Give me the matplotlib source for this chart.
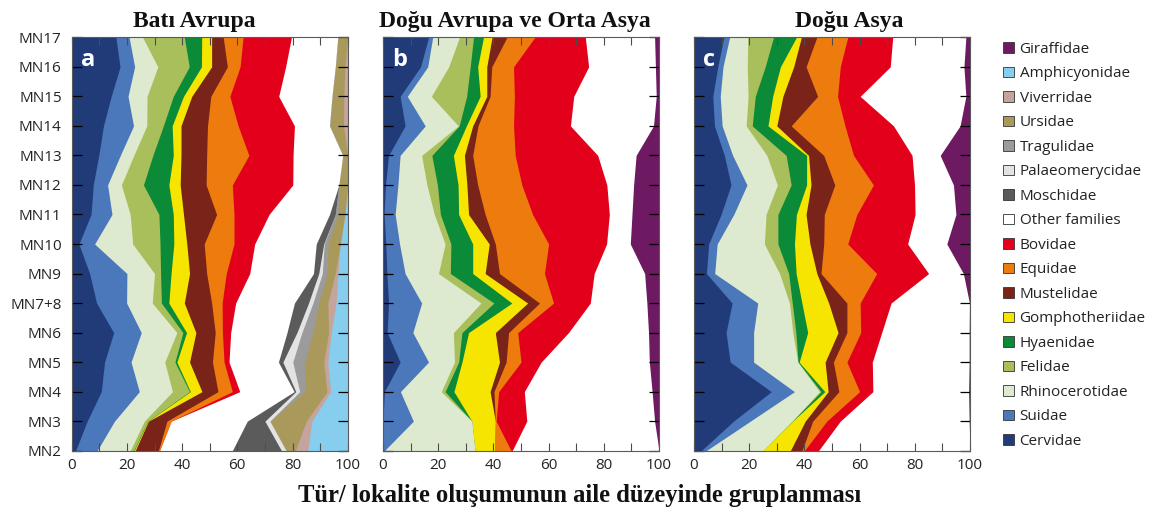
import numpy as np
import matplotlib
matplotlib.use("Agg")
import matplotlib.pyplot as plt
from matplotlib.patches import Rectangle

# Mammal-age levels, bottom to top
levels = ["MN2", "MN3", "MN4", "MN5", "MN6", "MN7+8", "MN9", "MN10",
          "MN11", "MN12", "MN13", "MN14", "MN15", "MN16", "MN17"]

# Stack order, left to right
families = ["Cervidae", "Suidae", "Rhinocerotidae", "Felidae", "Hyaenidae",
            "Gomphotheriidae", "Mustelidae", "Equidae", "Bovidae",
            "Other families", "Moschidae", "Palaeomerycidae", "Tragulidae",
            "Ursidae", "Viverridae", "Amphicyonidae", "Giraffidae"]

family_colors = ["#213a78", "#4b77bb", "#deeacf", "#a9bf5c", "#0b8a38",
                 "#f6e500", "#7a2319", "#ee7b0d", "#e2001b",
                 "#ffffff", "#5b5b5b", "#e3e3e3", "#9b9b9b",
                 "#a99a5b", "#c5a49d", "#86cdee", "#6d1a62"]

# Share (%) of each family per level, MN2 ... MN17
west_europe = {
    "Cervidae":        [1.4, 5.6, 10.7, 11.9, 15.2, 9.0, 6.5, 2.6, 7.0, 7.8, 9.8, 11.5, 14.3, 17.5, 16.0],
    "Suidae":          [7.8, 9.9, 13.8, 9.6, 10.0, 10.9, 13.5, 5.7, 7.6, 5.2, 7.8, 10.9, 6.1, 5.3, 4.8],
    "Rhinocerotidae":  [12.0, 10.8, 12.0, 12.2, 12.9, 9.3, 10.0, 13.8, 6.6, 5.0, 4.9, 4.8, 6.9, 8.4, 4.9],
    "Felidae":         [1.2, 1.2, 6.2, 3.7, 2.2, 3.3, 2.2, 9.9, 10.4, 8.0, 6.9, 6.0, 9.5, 11.4, 15.1],
    "Hyaenidae":       [0.2, 0.1, 0.3, 0.7, 1.3, 2.7, 3.8, 5.0, 5.2, 9.2, 7.4, 3.2, 3.7, 4.4, 6.3],
    "Gomphotheriidae": [0.4, 0.2, 4.2, 4.6, 3.4, 5.6, 6.7, 4.7, 3.7, 4.1, 2.8, 3.2, 3.0, 3.7, 3.6],
    "Mustelidae":      [8.4, 6.7, 5.8, 8.3, 7.0, 9.9, 6.2, 6.3, 12.0, 9.4, 9.3, 9.6, 6.9, 5.7, 4.2],
    "Equidae":         [0.4, 1.5, 5.2, 4.2, 2.6, 3.8, 7.1, 10.8, 6.3, 9.5, 15.3, 11.1, 6.9, 4.6, 7.2],
    "Bovidae":         [0.0, 0.0, 2.7, 1.8, 3.0, 4.9, 8.5, 7.5, 12.7, 21.9, 16.0, 20.4, 17.7, 16.5, 17.5],
    "Other families":  [26.4, 27.6, 19.7, 17.9, 20.4, 21.3, 23.1, 22.3, 21.9, 16.7, 18.0, 12.7, 19.3, 18.0, 16.8],
    "Moschidae":       [17.8, 6.4, 0.6, 1.6, 3.6, 5.1, 1.9, 2.7, 2.1, 0, 0, 0, 0, 0, 0],
    "Palaeomerycidae": [1.7, 1.8, 1.4, 3.6, 1.8, 1.6, 1.3, 0.2, 0, 0, 0, 0, 0, 0, 0],
    "Tragulidae":      [0, 0, 1.8, 4.2, 4.0, 2.1, 1.8, 1.3, 1.0, 0, 0, 0, 0, 0, 0],
    "Ursidae":         [3.3, 13.2, 8.1, 7.0, 5.7, 3.3, 2.9, 4.5, 2.5, 3.2, 1.8, 5.1, 4.3, 3.5, 3.6],
    "Viverridae":      [4.5, 2.0, 1.3, 1.5, 0.9, 3.0, 1.0, 0, 0, 0, 0, 1.5, 1.4, 1.0, 0],
    "Amphicyonidae":   [14.5, 13.0, 6.2, 7.2, 6.0, 4.2, 3.5, 2.7, 1.0, 0, 0, 0, 0, 0, 0],
}

east_europe_central_asia = {
    "Cervidae":        [0, 0, 0.5, 6.2, 1.5, 2.0, 1.4, 1.0, 0.4, 0.9, 2.0, 8.0, 6.2, 13.6, 16.5],
    "Suidae":          [0.5, 11.0, 5.8, 10.3, 9.3, 12.0, 6.6, 5.0, 4.0, 4.5, 4.2, 7.3, 2.6, 2.6, 1.5],
    "Rhinocerotidae":  [32.8, 21.2, 14.8, 9.4, 14.7, 21.5, 12.1, 16.5, 14.2, 10.5, 7.8, 12.0, 8.7, 7.6, 9.7],
    "Felidae":         [0, 0, 1.4, 1.5, 3.1, 4.7, 4.3, 2.1, 2.2, 3.8, 3.7, 0.3, 12.8, 7.8, 5.1],
    "Hyaenidae":       [0, 0, 3.2, 1.2, 2.4, 6.5, 8.1, 7.9, 6.6, 7.5, 7.8, 2.6, 4.9, 2.7, 3.6],
    "Gomphotheriidae": [7.1, 8.5, 13.1, 13.6, 9.7, 5.7, 4.5, 6.0, 3.6, 3.2, 4.0, 2.3, 2.4, 3.3, 3.1],
    "Mustelidae":      [0, 0, 1.4, 2.4, 4.8, 4.3, 5.2, 2.2, 6.0, 3.9, 3.0, 1.9, 1.2, 1.8, 5.4],
    "Equidae":         [6.0, 0.3, 1.7, 5.4, 3.3, 5.1, 16.3, 19.3, 17.2, 16.0, 15.4, 12.9, 8.8, 7.9, 10.1],
    "Bovidae":         [0.4, 11.1, 9.3, 7.3, 18.4, 13.3, 18.0, 21.0, 27.8, 30.8, 29.9, 20.6, 21.5, 27.2, 18.3],
    "Other families":  [53.2, 46.3, 46.3, 39.2, 29.0, 20.5, 18.3, 8.6, 8.2, 9.7, 13.9, 30.1, 29.9, 24.2, 25.1],
    "Giraffidae":      [0, 1.6, 2.5, 3.5, 3.8, 4.4, 5.2, 10.4, 9.8, 9.2, 8.3, 2.0, 1.0, 1.3, 1.6],
}

east_asia = {
    "Cervidae":        [2.6, 14.3, 28.0, 13.1, 11.6, 13.8, 4.5, 5.3, 9.8, 13.4, 11.0, 7.4, 6.8, 8.6, 10.8],
    "Suidae":          [1.8, 6.1, 8.4, 8.5, 10.0, 9.3, 3.0, 3.1, 4.6, 5.8, 3.0, 2.8, 2.7, 1.9, 2.1],
    "Rhinocerotidae":  [20.5, 15.1, 9.1, 16.0, 14.2, 11.5, 23.5, 17.1, 11.7, 11.0, 12.4, 8.7, 10.1, 8.8, 6.6],
    "Felidae":         [0, 0.1, 0.5, 0.1, 1.1, 1.0, 3.3, 4.9, 4.3, 5.0, 7.0, 2.2, 2.6, 6.5, 9.3],
    "Hyaenidae":       [0, 0.1, 1.4, 0.4, 4.3, 3.5, 2.7, 6.0, 6.7, 5.6, 7.4, 5.7, 6.3, 5.5, 8.3],
    "Gomphotheriidae": [10.0, 4.6, 1.2, 9.4, 11.0, 9.7, 7.5, 5.6, 3.5, 1.6, 0.7, 3.2, 3.7, 4.8, 1.8],
    "Mustelidae":      [4.2, 2.7, 3.9, 3.0, 3.2, 6.6, 1.5, 5.0, 6.6, 8.6, 5.5, 5.2, 12.6, 4.5, 5.6],
    "Equidae":         [0.9, 5.1, 7.5, 4.9, 5.0, 4.8, 20.2, 8.7, 11.8, 14.0, 10.8, 19.5, 7.2, 12.4, 11.2],
    "Bovidae":         [5.1, 4.9, 4.8, 9.2, 7.6, 11.2, 18.8, 21.7, 21.1, 14.9, 21.2, 17.6, 8.2, 18.1, 16.3],
    "Other families":  [54.9, 46.7, 34.7, 35.1, 31.7, 28.4, 12.6, 14.2, 14.8, 14.1, 10.2, 24.1, 38.3, 26.7, 26.5],
    "Giraffidae":      [0, 0.3, 0.5, 0.3, 0.3, 0.2, 2.4, 8.4, 5.1, 6.0, 10.8, 3.6, 1.5, 2.2, 1.5],
}

panel_titles = ["Batı Avrupa", "Doğu Avrupa ve Orta Asya", "Doğu Asya"]
panel_letters = ["a", "b", "c"]
panel_data = [west_europe, east_europe_central_asia, east_asia]
x_label = "Tür/ lokalite oluşumunun aile düzeyinde gruplanması"

W, H = 1163, 513
fig = plt.figure(figsize=(W / 100, H / 100), dpi=100)

sans = ["Open Sans", "DejaVu Sans"]
serif = ["Liberation Serif", "DejaVu Serif"]

panel_px_left = [71.7, 383.0, 694.0]
title_px_center = [194, 515, 849]
ax_top, ax_bottom = 37.3, 450.7

y = np.arange(len(levels))

for i, data in enumerate(panel_data):
    ax = fig.add_axes([panel_px_left[i] / W, 1 - ax_bottom / H,
                       276.0 / W, (ax_bottom - ax_top) / H])
    stack = np.array([data.get(f, [0] * len(levels)) for f in families], dtype=float)
    cum = np.cumsum(stack, axis=0)
    # each family is filled from 0 to its cumulative edge, right-most first,
    # so neighbouring areas meet without seams
    for k in range(len(families) - 1, -1, -1):
        if not np.any(stack[k] > 0):
            continue
        ax.fill_betweenx(y, 0, cum[k], color=family_colors[k], lw=0)

    ax.set_xlim(0, 100)
    ax.set_ylim(0, len(levels) - 1)
    ax.set_xticks(np.arange(0, 101, 20))
    ax.set_xticks(np.arange(10, 100, 20), minor=True)
    ax.set_yticks(y)
    if i == 0:
        ax.set_yticklabels(levels, fontsize=11, family=sans)
    else:
        ax.set_yticklabels([])
    ax.set_xticklabels([str(v) for v in range(0, 101, 20)], fontsize=11, family=sans)

    ax.tick_params(axis="x", which="both", direction="in", top=True, bottom=True,
                   length=5.5, width=0.8, color="#4d4d4d", pad=5, labelcolor="#222222")
    ax.tick_params(axis="y", which="major", direction="in", left=True, right=True,
                   length=7, width=0.9, pad=7.2, labelcolor="#222222")
    giraffe = stack[families.index("Giraffidae")]
    for j, tick in enumerate(ax.yaxis.get_major_ticks()):
        tick.tick1line.set_color("#e4e4ee")
        tick.tick2line.set_color("#f0e6f0" if giraffe[j] > 1.0 else "#555555")

    for sp in ax.spines.values():
        sp.set_color("#5a5a5a")
        sp.set_linewidth(0.8)

    ax.text(0.034, 0.9306, panel_letters[i], transform=ax.transAxes,
            color="white", fontsize=17, fontweight="bold", family=sans,
            ha="left", va="baseline")

    fig.text(title_px_center[i] / W, 1 - 27 / H, panel_titles[i],
             ha="center", va="baseline", fontsize=17, fontweight="bold",
             family=serif, color="#111111")

fig.text(580 / W, 1 - 502 / H, x_label, ha="center", va="baseline",
         fontsize=17.7, fontweight="bold", family=serif, color="#111111")

# Legend: top entry is the right-most family of the stack
sq = 10.5
for r, k in enumerate(range(len(families) - 1, -1, -1)):
    yc = 47.3 + r * 24.5
    fig.add_artist(Rectangle((1003 / W, 1 - (yc + sq / 2) / H), sq / W, sq / H,
                             transform=fig.transFigure, facecolor=family_colors[k],
                             edgecolor="#333333", linewidth=0.6))
    fig.text(1019.5 / W, 1 - yc / H, families[k], ha="left", va="center_baseline",
             fontsize=11, family=sans, color="#222222")

fig.savefig("out.png", dpi=100)
